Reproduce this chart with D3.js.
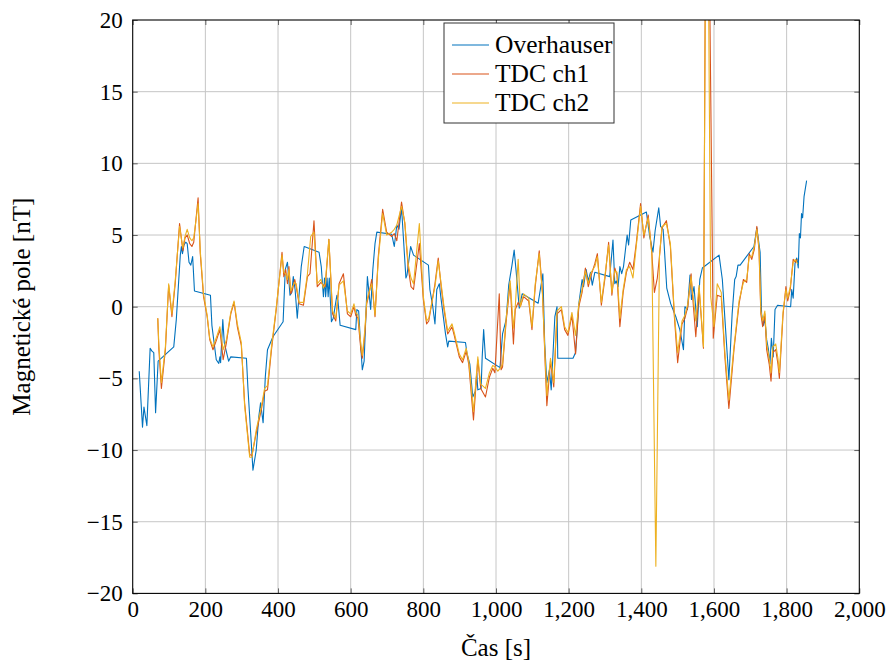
<!DOCTYPE html>
<html>
<head>
<meta charset="utf-8">
<script src="https://cdn.jsdelivr.net/npm/d3@7"></script>
<style>
  html, body { margin: 0; padding: 0; background: #fff; }
  svg { display: block; }
  svg text { font-family: "Liberation Serif", "DejaVu Serif", serif; fill: #000; }
</style>
</head>
<body>
<svg id="chart" width="890" height="662"></svg>
<script>
// Magnetic field measurements: [time s, field nT]
const overhauser = [[18,-4.5],[27,-8.4],[31,-7.0],[39,-8.3],[48,-2.9],[53,-3.1],[58,-3.2],[63,-7.4],[70,-3.8],[113,-2.8],[120,-0.9],[131,3.6],[134,4.2],[137,3.7],[141,4.3],[146,4.5],[150,4.4],[155,3.1],[160,2.9],[165,3.5],[170,1.1],[214,0.8],[218,-1.3],[230,-3.7],[237,-3.95],[240,-3.5],[242,-3.9],[248,-0.9],[252,-2.5],[264,-3.8],[270,-3.5],[313,-3.6],[317,-5.6],[331,-11.4],[340,-10.0],[347,-7.7],[352,-6.7],[359,-8.1],[365,-4.9],[371,-3.0],[386,-2.1],[414,-1.05],[420,2.6],[426,3.1],[433,0.8],[438,1.0],[442,2.1],[447,1.2],[453,-0.8],[464,2.8],[472,4.2],[513,3.8],[519,2.8],[525,0.7],[528,2.0],[531,0.7],[535,2.0],[538,0.7],[541,2.0],[547,-1.05],[552,-0.8],[562,0.8],[565,0.4],[571,-1.3],[614,-1.6],[617,-0.2],[622,-0.3],[626,-2.1],[632,-4.4],[637,-3.8],[646,2.1],[655,-0.2],[661,2.6],[667,4.4],[672,5.2],[713,5.05],[720,4.2],[727,5.7],[733,5.4],[740,6.9],[752,2.0],[755,2.2],[765,4.2],[773,3.6],[814,2.9],[818,1.2],[826,0.0],[832,-1.2],[837,1.2],[844,1.6],[848,0.7],[861,-1.9],[867,-2.8],[870,-2.4],[916,-2.5],[920,-3.25],[928,-4.0],[936,-6.3],[943,-5.9],[947,-4.65],[950,-5.8],[959,-5.7],[962,-3.5],[966,-1.6],[971,-3.6],[1011,-4.25],[1018,-1.9],[1028,-0.9],[1035,1.5],[1044,2.9],[1050,3.95],[1055,2.6],[1064,-0.1],[1072,0.9],[1116,0.24],[1129,2.3],[1134,-2.55],[1140,-5.3],[1147,-4.4],[1152,-5.8],[1162,-0.7],[1168,0.0],[1170,-3.6],[1212,-3.6],[1219,-3.2],[1228,0.2],[1237,1.9],[1241,1.4],[1248,2.6],[1254,1.8],[1260,2.4],[1265,1.5],[1272,2.4],[1313,2.1],[1322,4.65],[1327,1.6],[1331,1.8],[1336,1.4],[1341,2.8],[1346,2.3],[1351,2.8],[1361,5.0],[1365,4.3],[1371,6.05],[1414,6.6],[1423,4.9],[1432,3.8],[1438,5.3],[1448,6.9],[1453,5.6],[1460,5.4],[1462,4.65],[1470,1.3],[1481,0.2],[1495,-0.7],[1506,-1.6],[1516,-3.0],[1520,0.0],[1527,-0.2],[1534,2.2],[1538,0.5],[1545,1.4],[1554,-1.4],[1561,1.9],[1568,2.7],[1614,3.6],[1623,1.9],[1632,-1.6],[1641,-5.1],[1650,-0.5],[1657,1.9],[1661,2.1],[1666,2.9],[1672,2.9],[1710,4.2],[1718,5.5],[1727,3.8],[1731,-0.5],[1736,-1.3],[1740,-0.8],[1745,-2.3],[1750,-3.0],[1754,-4.0],[1758,-2.2],[1763,-3.5],[1768,-0.2],[1775,0.1],[1811,0.0],[1814,1.2],[1818,0.6],[1823,3.0],[1828,3.4],[1832,2.7],[1835,5.1],[1838,4.8],[1841,6.5],[1844,6.2],[1848,7.7],[1855,8.8]];

const tdcCh1 = [[69,-0.8],[72,-3.0],[79,-5.7],[90,-3.0],[99,1.5],[108,-0.7],[117,1.6],[129,5.8],[138,3.9],[144,4.8],[150,5.0],[157,4.4],[163,4.2],[168,4.5],[180,7.6],[186,3.7],[195,0.7],[205,-0.7],[212,-2.3],[221,-3.0],[231,-2.3],[240,-1.6],[249,-3.7],[258,-2.5],[270,-0.5],[279,0.3],[288,-1.4],[299,-2.7],[308,-6.7],[322,-10.3],[328,-10.4],[340,-8.8],[354,-7.2],[363,-5.9],[371,-5.8],[382,-3.0],[395,-0.2],[411,3.8],[416,2.1],[421,2.6],[426,1.6],[430,2.8],[435,0.9],[440,1.2],[446,1.9],[450,1.4],[458,0.2],[470,0.1],[481,2.1],[488,2.3],[499,6.0],[508,1.4],[518,1.7],[525,1.5],[530,1.4],[540,4.7],[550,-0.5],[559,-1.0],[568,1.6],[580,2.3],[591,-0.5],[600,-0.7],[609,0.0],[614,-0.6],[620,-0.8],[628,-3.0],[632,-3.6],[639,-1.9],[644,0.2],[648,0.6],[658,1.9],[667,-0.7],[676,3.5],[688,6.8],[699,5.2],[713,4.9],[720,5.1],[727,4.6],[740,7.3],[749,5.8],[758,2.8],[766,1.4],[773,1.2],[789,4.4],[800,0.5],[809,-1.2],[815,-1.0],[832,1.6],[841,3.4],[849,1.4],[857,-0.2],[867,-1.9],[879,-1.4],[885,-2.0],[899,-3.5],[908,-3.9],[918,-3.1],[925,-4.0],[938,-7.9],[950,-3.7],[958,-5.7],[971,-6.3],[982,-4.9],[991,-4.3],[997,-4.6],[1009,0.9],[1014,-4.4],[1018,-4.2],[1028,-1.0],[1039,1.6],[1048,-2.6],[1053,-0.2],[1061,0.3],[1067,0.0],[1076,0.7],[1090,0.4],[1099,-1.6],[1108,1.4],[1119,3.9],[1128,1.0],[1136,-4.4],[1140,-6.9],[1150,-3.8],[1159,-5.6],[1168,-0.5],[1180,-0.2],[1189,-1.6],[1198,-2.0],[1209,-0.6],[1219,-3.3],[1228,0.0],[1237,1.0],[1246,2.7],[1254,1.4],[1262,2.2],[1272,3.0],[1279,3.7],[1290,0.1],[1300,2.0],[1310,4.5],[1319,0.8],[1327,2.7],[1333,2.2],[1341,-1.4],[1350,1.0],[1359,2.4],[1368,3.1],[1377,2.6],[1386,4.4],[1398,7.2],[1407,4.8],[1419,6.4],[1429,3.7],[1436,1.0],[1444,2.0],[1450,3.5],[1457,5.5],[1469,6.0],[1480,4.2],[1491,-0.7],[1500,-3.9],[1512,-1.2],[1520,-0.8],[1528,0.0],[1537,2.3],[1540,1.1],[1550,-2.1],[1559,1.3],[1571,-2.9],[1580,42],[1598,-2.2],[1609,0.8],[1620,0.7],[1630,-3.5],[1641,-7.1],[1655,-3.0],[1669,0.2],[1681,1.9],[1690,1.7],[1697,3.7],[1704,3.3],[1711,4.0],[1718,5.6],[1724,3.9],[1729,-0.5],[1734,-1.4],[1740,-0.5],[1745,-3.0],[1752,-4.0],[1757,-5.2],[1762,-3.2],[1770,-3.0],[1776,-4.0],[1780,-5.0],[1790,-0.6],[1798,1.4],[1803,0.4],[1810,1.2],[1818,3.3],[1824,3.1],[1830,3.3]];

const tdcCh2 = [[69,-0.8],[72,-2.6],[79,-5.3],[90,-2.8],[99,1.6],[108,-0.5],[117,1.8],[129,5.6],[138,4.1],[144,4.9],[150,5.4],[157,4.8],[163,4.6],[168,4.8],[180,7.2],[186,3.9],[195,0.9],[205,-0.6],[212,-2.2],[221,-2.8],[231,-2.1],[240,-1.4],[249,-3.0],[258,-2.3],[270,-0.4],[279,0.4],[288,-1.2],[299,-2.5],[308,-6.9],[322,-10.5],[328,-10.5],[340,-8.6],[354,-7.0],[363,-5.7],[371,-5.5],[382,-2.8],[395,-0.1],[411,3.6],[416,2.4],[421,2.3],[426,1.9],[430,2.6],[435,1.1],[440,1.4],[446,1.7],[450,1.6],[458,0.3],[470,0.3],[481,2.3],[490,4.9],[499,5.2],[508,1.6],[518,1.9],[525,1.3],[530,1.6],[540,4.7],[550,-0.3],[559,-0.8],[568,1.5],[580,1.8],[591,-0.3],[600,-0.5],[609,0.2],[614,-0.4],[620,-0.6],[628,-2.6],[632,-3.4],[639,-1.6],[644,0.3],[648,0.8],[658,1.6],[667,-0.6],[676,3.3],[688,6.5],[699,5.0],[713,5.2],[720,5.4],[727,5.7],[740,7.0],[749,5.9],[758,3.0],[766,2.0],[773,1.6],[789,5.8],[800,0.7],[809,-1.0],[815,-0.8],[832,1.4],[841,3.2],[849,1.6],[857,0.0],[867,-1.7],[879,-1.2],[885,-1.8],[899,-3.3],[908,-3.7],[918,-2.9],[925,-3.8],[938,-7.3],[950,-3.5],[958,-5.4],[971,-5.7],[982,-4.6],[991,-4.1],[997,-4.2],[1005,-4.5],[1014,-4.2],[1018,-4.0],[1028,-0.8],[1039,1.8],[1048,-1.5],[1053,0.0],[1061,3.3],[1067,0.0],[1076,0.9],[1090,0.6],[1099,-1.4],[1108,1.6],[1119,3.7],[1128,0.8],[1136,-4.0],[1140,-6.2],[1150,-3.6],[1159,-5.3],[1168,-0.3],[1180,0.0],[1189,-1.4],[1198,-1.8],[1209,-0.4],[1219,-2.0],[1228,0.2],[1237,1.2],[1246,2.5],[1254,1.6],[1262,2.4],[1272,2.8],[1279,3.5],[1290,0.3],[1300,2.2],[1310,4.3],[1319,1.0],[1327,2.5],[1333,2.4],[1341,-0.8],[1350,1.2],[1359,2.6],[1368,2.8],[1377,2.0],[1386,4.2],[1398,7.0],[1407,5.0],[1419,6.2],[1429,3.7],[1440,-18.1],[1450,3.6],[1457,5.6],[1469,5.8],[1480,4.4],[1491,-0.5],[1500,-3.2],[1512,-1.0],[1520,-0.6],[1528,0.2],[1537,2.1],[1540,1.3],[1550,-1.0],[1559,1.5],[1571,-2.8],[1580,40],[1591,0.7],[1600,-1.4],[1609,1.6],[1620,1.0],[1630,-3.2],[1641,-6.5],[1655,-2.8],[1669,0.4],[1681,1.7],[1690,1.9],[1697,3.5],[1704,3.5],[1711,4.2],[1718,5.4],[1724,4.1],[1729,-0.3],[1734,-1.0],[1740,-0.3],[1745,-2.6],[1752,-3.6],[1757,-4.6],[1762,-2.8],[1770,-2.6],[1776,-3.6],[1780,-4.6],[1790,-0.4],[1798,1.2],[1803,0.6],[1810,1.4],[1818,3.1],[1824,3.3],[1830,3.0]];

const seriesNames = ["Overhauser", "TDC ch1", "TDC ch2"];
const seriesColors = ["#0072BD", "#D95319", "#EDB120"];
const xTicks = [0, 200, 400, 600, 800, 1000, 1200, 1400, 1600, 1800, 2000];
const yTicks = [-20, -15, -10, -5, 0, 5, 10, 15, 20];
const xLabel = "Čas [s]";
const yLabel = "Magnetické pole [nT]";

const serif = '"Liberation Serif", "DejaVu Serif", serif';
const svg = d3.select("#chart");
const plot = { left: 132.7, top: 20, right: 859.3, bottom: 593.4 };

const x = d3.scaleLinear().domain([0, 2000]).range([plot.left, plot.right]);
const y = d3.scaleLinear().domain([-20, 20]).range([plot.bottom, plot.top]);

svg.append("defs").append("clipPath").attr("id", "plotClip")
  .append("rect")
  .attr("x", plot.left).attr("y", plot.top)
  .attr("width", plot.right - plot.left).attr("height", plot.bottom - plot.top);

// grid
const grid = svg.append("g").attr("stroke", "#c6c6c6").attr("stroke-width", 1);
grid.selectAll("line.gx").data(xTicks.slice(1, -1)).join("line")
  .attr("x1", d => x(d)).attr("x2", d => x(d))
  .attr("y1", plot.top).attr("y2", plot.bottom);
grid.selectAll("line.gy").data(yTicks.slice(1, -1)).join("line")
  .attr("x1", plot.left).attr("x2", plot.right)
  .attr("y1", d => y(d)).attr("y2", d => y(d));

// series
const line = d3.line().x(d => x(d[0])).y(d => y(d[1]));
const lines = svg.append("g").attr("clip-path", "url(#plotClip)");
[overhauser, tdcCh1, tdcCh2].forEach((data, i) => {
  lines.append("path")
    .datum(data)
    .attr("d", line)
    .attr("fill", "none")
    .attr("stroke", seriesColors[i])
    .attr("stroke-width", 1.1)
    .attr("stroke-linejoin", "round");
});

// axes with inward ticks
const tickLen = 5;
const fmtX = d3.format(",");
const fmtY = d3.format("d");

const xAxisB = d3.axisBottom(x).tickValues(xTicks).tickSizeInner(-tickLen).tickSizeOuter(0).tickPadding(7).tickFormat(fmtX);
const xAxisT = d3.axisTop(x).tickValues(xTicks).tickSizeInner(-tickLen).tickSizeOuter(0).tickFormat("");
const yAxisL = d3.axisLeft(y).tickValues(yTicks).tickSizeInner(-tickLen).tickSizeOuter(0).tickPadding(10).tickFormat(fmtY);
const yAxisR = d3.axisRight(y).tickValues(yTicks).tickSizeInner(-tickLen).tickSizeOuter(0).tickFormat("");

function styleAxis(g) {
  g.attr("font-family", null).attr("font-size", null);
  g.select(".domain").remove();
  g.selectAll(".tick line").attr("stroke", "#404040").attr("stroke-width", 0.8);
  g.selectAll("text").style("font-family", serif).style("font-size", "23px").attr("fill", "#000");
}

svg.append("g").attr("transform", `translate(0,${plot.bottom})`).call(xAxisB).call(styleAxis);
svg.append("g").attr("transform", `translate(0,${plot.top})`).call(xAxisT).call(styleAxis);
svg.append("g").attr("transform", `translate(${plot.left},0)`).call(yAxisL).call(styleAxis);
svg.append("g").attr("transform", `translate(${plot.right},0)`).call(yAxisR).call(styleAxis);

// frame
svg.append("rect")
  .attr("x", plot.left).attr("y", plot.top)
  .attr("width", plot.right - plot.left).attr("height", plot.bottom - plot.top)
  .attr("fill", "none").attr("stroke", "#000").attr("stroke-width", 1.1);

// axis titles
svg.append("text")
  .attr("x", (plot.left + plot.right) / 2).attr("y", 656)
  .attr("text-anchor", "middle").style("font-size", "25px")
  .text(xLabel);
svg.append("text")
  .attr("transform", `translate(30,${(plot.top + plot.bottom) / 2}) rotate(-90)`)
  .attr("text-anchor", "middle").style("font-size", "25px")
  .text(yLabel);

// legend
const legend = svg.append("g");
legend.append("rect")
  .attr("x", 444).attr("y", 23).attr("width", 170).attr("height", 100)
  .attr("fill", "#fff").attr("stroke", "#333").attr("stroke-width", 1);
seriesNames.forEach((name, i) => {
  const cy = 45 + i * 29;
  legend.append("line")
    .attr("x1", 452).attr("x2", 489).attr("y1", cy).attr("y2", cy)
    .attr("stroke", seriesColors[i]).attr("stroke-width", 1.1);
  legend.append("text")
    .attr("x", 495).attr("y", cy + 8)
    .style("font-size", "25.5px")
    .text(name);
});
</script>
</body>
</html>
